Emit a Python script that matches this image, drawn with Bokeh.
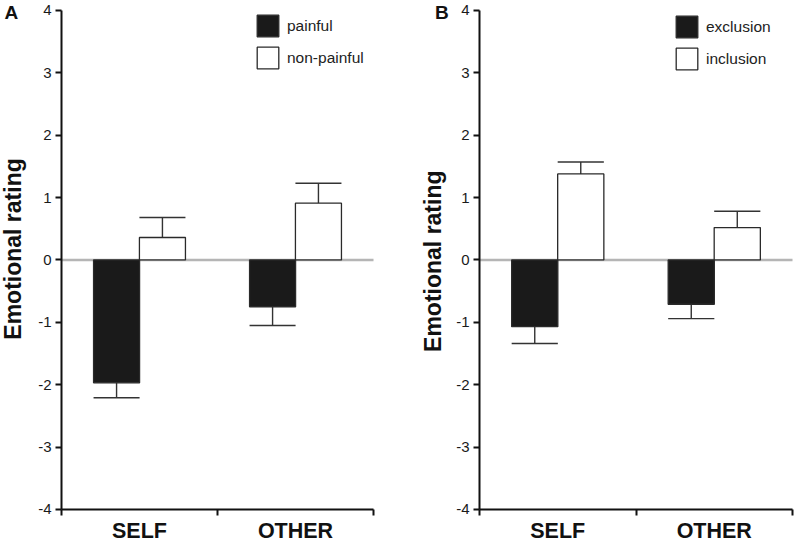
import math
from bokeh.plotting import figure
from bokeh.layouts import row
from bokeh.models import (Range1d, FixedTicker, Legend, LegendItem, Label,
                          ColumnDataSource)
from bokeh.embed import file_html
from bokeh.resources import INLINE

# ---------------- data ----------------
categories = ["SELF", "OTHER"]
y_ticks = [-4, -3, -2, -1, 0, 1, 2, 3, 4]
y_tick_labels = ["-4", "-3", "-2", "-1", "0", "1", "2", "3", "4"]
y_title = "Emotional rating"

a_series = ["painful", "non-painful"]
a_painful = [-1.97, -0.75]
a_painful_sem = [0.24, 0.30]
a_nonpainful = [0.36, 0.91]
a_nonpainful_sem = [0.32, 0.32]

b_series = ["exclusion", "inclusion"]
b_exclusion = [-1.07, -0.71]
b_exclusion_sem = [0.27, 0.23]
b_inclusion = [1.38, 0.52]
b_inclusion_sem = [0.19, 0.26]

FONT = "Liberation Sans"
BAR_W = 0.295
DODGE = 0.147
W, H = 400, 542
Y_MIN, Y_MAX = -4.53, 4.16


def make_panel(letter, series, vals1, sem1, vals2, sem2, x_start, x_end,
               legend_x, legend_y, letter_x, title_x, title_y):
    n = len(categories)
    p = figure(output_backend="svg", toolbar_location=None,
               width=W, height=H,
               min_border_left=0, min_border_right=0,
               min_border_top=0, min_border_bottom=0,
               x_range=Range1d(x_start, x_end), y_range=Range1d(Y_MIN, Y_MAX),
               background_fill_color="white", border_fill_color="white")
    p.outline_line_color = None
    p.xgrid.visible = False
    p.ygrid.visible = False

    # zero reference line across the category span
    p.segment(x0=[0], y0=[0], x1=[n], y1=[0], line_color="#b5b5b5", line_width=2.5)

    idx = list(range(n))
    x1 = [i + 0.5 - DODGE for i in idx]
    x2 = [i + 0.5 + DODGE for i in idx]

    renderers = []
    for xs, vals, sems, fill in ((x1, vals1, sem1, "#1a1a1a"), (x2, vals2, sem2, "white")):
        ends = [v - s if v < 0 else v + s for v, s in zip(vals, sems)]
        src = ColumnDataSource(dict(
            x=xs, top=vals, end=ends,
            x0=[x - BAR_W / 2 for x in xs], x1=[x + BAR_W / 2 for x in xs]))
        p.segment(x0="x", y0="top", x1="x", y1="end", source=src,
                  line_color="#333333", line_width=1.4)
        p.segment(x0="x0", y0="end", x1="x1", y1="end", source=src,
                  line_color="#333333", line_width=1.4)
        r = p.vbar(x="x", top="top", bottom=0, width=BAR_W, source=src,
                   fill_color=fill, line_color="#2a2a2a", line_width=1.3)
        renderers.append(r)

    legend = Legend(items=[LegendItem(label=series[0], renderers=[renderers[0]]),
                           LegendItem(label=series[1], renderers=[renderers[1]])],
                    location=(legend_x, legend_y), orientation="vertical",
                    glyph_width=27, glyph_height=27, spacing=5,
                    label_standoff=6, padding=0, margin=0,
                    border_line_alpha=0, background_fill_alpha=0,
                    label_text_font=FONT, label_text_font_size="15.5px",
                    label_text_color="#222222")
    p.add_layout(legend)

    # y axis, drawn at x = 0 inside the frame
    ya = p.yaxis[0]
    ya.fixed_location = 0
    ya.bounds = (y_ticks[0], y_ticks[-1])
    ya.ticker = FixedTicker(ticks=y_ticks, minor_ticks=[])
    ya.major_label_overrides = {t: s for t, s in zip(y_ticks, y_tick_labels)}
    ya.major_label_text_font = FONT
    ya.major_label_text_font_size = "15px"
    ya.major_label_text_color = "#1a1a1a"
    ya.major_label_standoff = 4
    ya.major_tick_out = 6
    ya.major_tick_in = 0
    ya.minor_tick_line_color = None
    ya.axis_line_width = 2
    ya.axis_line_color = "#111111"
    ya.major_tick_line_width = 2
    ya.major_tick_line_color = "#111111"

    # x axis, drawn at y = -4 inside the frame
    xa = p.xaxis[0]
    xa.fixed_location = y_ticks[0]
    xa.bounds = (0, n)
    xa.ticker = FixedTicker(ticks=[i + 0.5 for i in idx], minor_ticks=list(range(n + 1)))
    xa.major_label_overrides = {i + 0.5: c for i, c in zip(idx, categories)}
    xa.major_label_text_font = FONT
    xa.major_label_text_font_style = "bold"
    xa.major_label_text_font_size = "21.5px"
    xa.major_label_text_color = "#111111"
    xa.major_tick_line_color = None
    xa.major_tick_out = 6
    xa.major_tick_in = 0
    xa.major_label_standoff = 4
    xa.minor_tick_out = 6
    xa.minor_tick_in = 0
    xa.minor_tick_line_width = 2
    xa.minor_tick_line_color = "#111111"
    xa.axis_line_width = 2
    xa.axis_line_color = "#111111"

    # y-axis title
    p.add_layout(Label(x=title_x, y=title_y, x_units="data", y_units="data", text=y_title,
                       angle=math.pi / 2, text_align="center", text_baseline="middle",
                       text_font=FONT, text_font_style="bold", text_font_size="23px",
                       text_color="#111111"))
    # panel letter
    p.add_layout(Label(x=letter_x, y=3.968, x_units="data", y_units="data", text=letter,
                       text_font=FONT, text_font_style="bold", text_font_size="19px",
                       text_baseline="middle", text_color="#111111"))
    return p


pa = make_panel("A", a_series, a_painful, a_painful_sem, a_nonpainful, a_nonpainful_sem,
                -0.391, 2.173, 254, 471, -0.365, -0.311, 0.176)
pb = make_panel("B", b_series, b_exclusion, b_exclusion_sem, b_inclusion, b_inclusion_sem,
                -0.5048, 2.051, 273, 470, -0.285, -0.300, -0.02)

layout = row(pa, pb)
open("out.html", "w").write(file_html(layout, INLINE))
